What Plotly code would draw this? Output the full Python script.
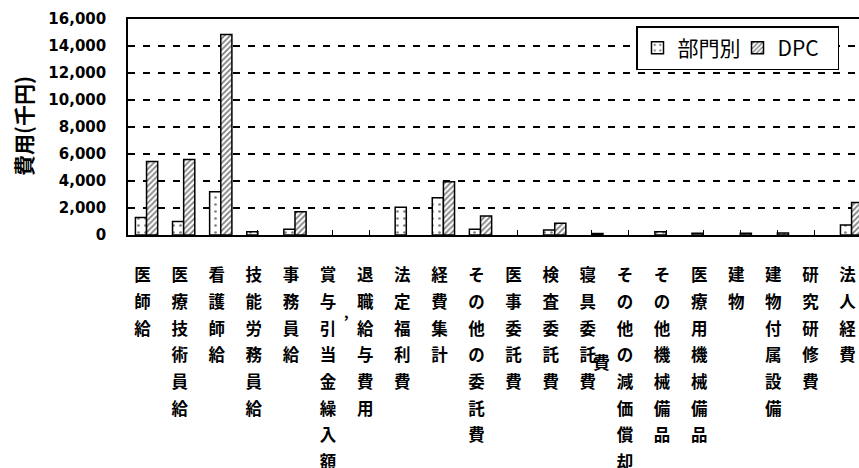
import plotly.graph_objects as go

categories = [
    "医師給", "医療技術員給", "看護師給", "技能労務員給", "事務員給",
    "賞与引当金繰入額", "退職給与費用", "法定福利費", "経費集計", "その他の委託費",
    "医事委託費", "検査委託費", "寝具委託費", "その他の減価償却", "その他機械備品",
    "医療用機械備品", "建物", "建物付属設備", "研究研修費", "法人経費",
]
# None = no bar visible in the original
bumon = [1300, 1000, 3200, 250, 420, None, None, 2050, 2760, 420,
         None, 370, None, None, 250, 130, None, None, None, 740]
dpc = [5450, 5600, 14850, None, 1720, None, None, None, 3950, 1400,
       None, 870, 110, None, None, None, 130, 150, None, 2400]

CJK = "Noto Sans CJK JP"
W, H = 859, 468
L, R, T, B = 128, 0, 19, 233

x_idx = list(range(len(categories)))
# vertical labels: one character per line, glyphs smaller than the line pitch
ticktext = ["<br>".join('<span style="font-size:16.5px">%s</span>' % ch for ch in c)
            for c in categories]

fig = go.Figure()

fig.add_trace(go.Bar(
    x=x_idx, y=bumon, name="部門別",
    marker=dict(color="white", line=dict(color="black", width=1.5),
                pattern=dict(shape=".", fgcolor="black", bgcolor="white",
                             size=7, solidity=0.12)),
))
fig.add_trace(go.Bar(
    x=x_idx, y=dpc, name="DPC",
    marker=dict(color="white", line=dict(color="black", width=1.5),
                pattern=dict(shape="/", fgcolor="black", bgcolor="white",
                             size=4, solidity=0.45)),
))

def px_to_paper(px, py):
    return (px - L) / (W - L - R), (H - B - py) / (H - T - B)

annots = []
ax, ay = px_to_paper(23, 126)
annots.append(dict(x=ax, y=ay, xref="paper", yref="paper", text="費用(千円)",
                   textangle=-90, showarrow=False, xanchor="center", yanchor="middle",
                   font=dict(family=CJK, size=21, color="black", weight="bold")))
# stray marks in the original scan
for txt, (px, py), size in [("費", (601, 362), 17), (",", (346, 312), 14)]:
    sx, sy = px_to_paper(px, py)
    annots.append(dict(x=sx, y=sy, xref="paper", yref="paper", text=txt,
                       showarrow=False, xanchor="center", yanchor="middle",
                       font=dict(family=CJK, size=size, color="black", weight="bold")))

fig.update_layout(
    width=W, height=H,
    margin=dict(l=L, r=R, t=T, b=B, pad=0, autoexpand=False),
    paper_bgcolor="white", plot_bgcolor="white",
    barmode="group", bargap=0.4, bargroupgap=0,
    font=dict(family=CJK, color="black"),
    showlegend=True,
    legend=dict(
        orientation="h", x=(636 - L) / (W - L - R), xanchor="left",
        y=(H - B - 26) / (H - T - B), yanchor="top",
        bgcolor="white", bordercolor="black", borderwidth=1.5,
        font=dict(family=CJK, size=21, color="black"),
        itemwidth=30, traceorder="normal",
        entrywidth=55, entrywidthmode="pixels",
    ),
    xaxis=dict(
        range=[-0.5, 19.2], automargin=False,
        tickmode="array", tickvals=x_idx, ticktext=ticktext,
        tickfont=dict(family=CJK, size=20.5, color="black", weight="bold"),
        tickangle=0, ticklabelshift=-4, ticklabelstandoff=20,
        ticks="inside", tickson="boundaries", ticklen=5, tickcolor="black",
        showline=True, linecolor="black", linewidth=1.5, mirror=True,
        showgrid=False, zeroline=False,
    ),
    yaxis=dict(
        range=[0, 16000], dtick=2000, tickformat=",", automargin=False,
        tickfont=dict(family="DejaVu Sans", size=15, color="black", weight="bold"),
        ticklabelstandoff=17,
        showline=True, linecolor="black", linewidth=1.5,
        showgrid=True, gridcolor="black", gridwidth=1.5, griddash="7px,8px",
        zeroline=False, ticks="",
    ),
    annotations=annots,
)

fig.write_html("out.html", config={"displayModeBar": False},
               post_script="document.body.style.margin='0';")
